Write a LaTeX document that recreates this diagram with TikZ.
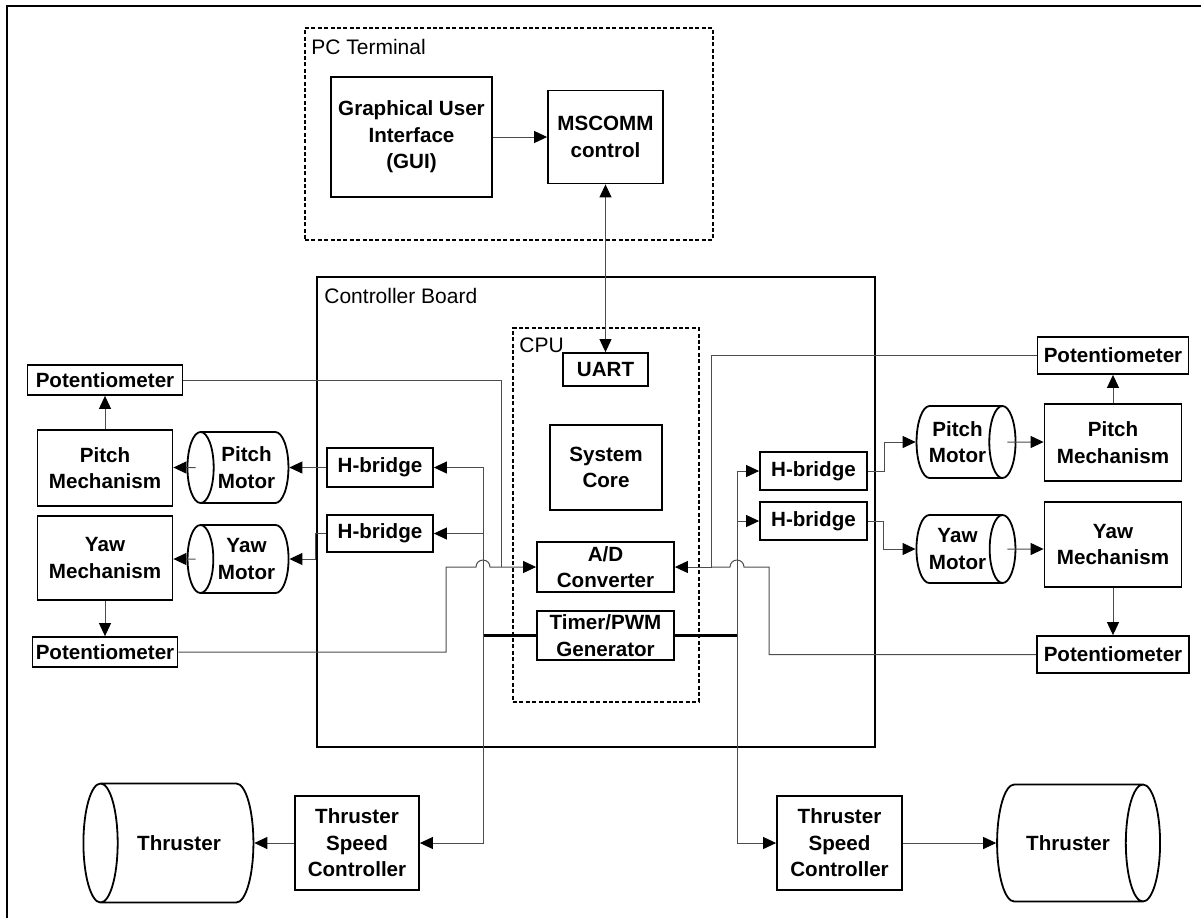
\documentclass[tikz,border=0pt]{standalone}
\usepackage{fontspec}
\setmainfont{Liberation Sans}
\usetikzlibrary{arrows.meta,shapes.geometric,calc}

\tikzset{
  blk/.style={draw,line width=0.9pt,align=center,inner sep=0.5pt,
    font=\fontsize{10.3}{13.3}\selectfont\bfseries},
  cyl/.style={blk,cylinder,shape aspect=0.6},
  grp/.style={draw,line width=0.9pt,dash pattern=on 2pt off 1.2pt},
  grplbl/.style={anchor=west,inner sep=0pt,font=\fontsize{10.5}{12}\selectfont},
  sig/.style={black!70,line width=0.5pt},
  bus/.style={black,line width=1.1pt},
}

\begin{document}
\begin{tikzpicture}[x=0.5pt,y=-0.5pt,>={Triangle[length=6.5pt,width=6pt,color=black]}]
  \useasboundingbox (0,0) rectangle (1201,918);
  \draw[line width=0.6pt] (7,918) -- (7,6) -- (1201,6);

  % PC side
  \node[grp,minimum width=204pt,minimum height=106pt] (pcterm) at (509,134) {};
  \node[grplbl] (pclbl) at (311,47) {PC Terminal};
  \node[blk,minimum width=80.5pt,minimum height=60pt] (gui) at (411.5,137) {Graphical User\\Interface\\(GUI)};
  \node[blk,minimum width=57.5pt,minimum height=46.5pt] (mscomm) at (605.5,137) {MSCOMM\\control};

  % controller board and CPU
  \node[draw,line width=0.6pt,minimum width=279pt,minimum height=235pt] (board) at (596,512) {};
  \node[grplbl] (boardlbl) at (324,296) {Controller Board};
  \node[grp,minimum width=93pt,minimum height=187pt] (cpu) at (606,515) {};
  \node[grplbl] (cpulbl) at (519,345) {CPU};
  \node[blk,minimum width=42.5pt,minimum height=16.5pt] (uart) at (605.5,369.5) {UART};
  \node[blk,minimum width=56pt,minimum height=42.5pt] (core) at (606,467.5) {System\\Core};
  \node[blk,minimum width=68.5pt,minimum height=25pt] (adc) at (605.5,567) {A/D\\Converter};
  \node[blk,minimum width=68.5pt,minimum height=24.5pt] (pwm) at (605.5,635.5) {Timer/PWM\\Generator};
  \node[blk,minimum width=53pt,minimum height=19.5pt] (hbL1) at (380,467.5) {H-bridge};
  \node[blk,minimum width=53pt,minimum height=18.5pt] (hbL2) at (380,533.5) {H-bridge};
  \node[blk,minimum width=53.5pt,minimum height=19pt] (hbR1) at (813.5,471) {H-bridge};
  \node[blk,minimum width=53.5pt,minimum height=19pt] (hbR2) at (813.5,521) {H-bridge};

  % left axis
  \node[blk,minimum width=77.5pt,minimum height=15pt] (potLT) at (105,380) {Potentiometer};
  \node[blk,minimum width=67.5pt,minimum height=38pt] (mechLP) at (105,468) {Pitch\\Mechanism};
  \node[cyl,shape border rotate=180,minimum height=50.5pt,minimum width=35.5pt] (motLP) at (246.5,467.5) {Pitch\\Motor};
  \node[blk,minimum width=67.5pt,minimum height=42pt] (mechLY) at (105,558) {Yaw\\Mechanism};
  \node[cyl,shape border rotate=180,minimum height=50.5pt,minimum width=34pt] (motLY) at (246.5,559) {Yaw\\Motor};
  \node[blk,minimum width=72.5pt,minimum height=15pt] (potLB) at (105,652) {Potentiometer};

  % right axis
  \node[blk,minimum width=75.5pt,minimum height=18.5pt] (potRT) at (1113,355.5) {Potentiometer};
  \node[blk,minimum width=68.5pt,minimum height=38.5pt] (mechRP) at (1113,442.5) {Pitch\\Mechanism};
  \node[cyl,minimum height=49.5pt,minimum width=36pt] (motRP) at (957.5,442) {Pitch\\Motor};
  \node[cyl,minimum height=49.5pt,minimum width=34pt] (motRY) at (957.5,549) {Yaw\\Motor};
  \node[blk,minimum width=68.5pt,minimum height=42.5pt] (mechRY) at (1113,544.5) {Yaw\\Mechanism};
  \node[blk,minimum width=76pt,minimum height=18.5pt] (potRB) at (1113,654.5) {Potentiometer};

  % thrusters
  \node[cyl,shape aspect=2,shape border rotate=180,minimum height=85pt,minimum width=59.5pt] (thrL) at (179,843) {Thruster};
  \node[blk,minimum width=62pt,minimum height=47pt] (tscL) at (357,843) {Thruster\\Speed\\Controller};
  \node[blk,minimum width=62.5pt,minimum height=47pt] (tscR) at (839.5,843) {Thruster\\Speed\\Controller};
  \node[cyl,shape aspect=2,minimum height=81.5pt,minimum width=58.5pt] (thrR) at (1068,843) {Thruster};

  \coordinate (jL) at (501,567);
  \coordinate (hopL) at (483,567);
  \coordinate (adL) at (446,567);
  \coordinate (jR) at (711,567);
  \coordinate (hopR) at (737,567);
  \coordinate (adR) at (769,567);
  \coordinate (busL) at (483,635.5);
  \coordinate (busR) at (737,635.5);

  \draw[sig,->] (gui) -- (mscomm);
  \draw[sig,<->] (uart) -- (mscomm);

  % PWM outputs
  \draw[bus] (pwm.west) -- (busL);
  \draw[bus] (pwm.east) -- (busR);
  \draw[sig,->] (busL) |- (hbL1.east);
  \draw[sig,->] (busL) |- (hbL2.east);
  \draw[sig,->] (busL) |- (tscL.east);
  \draw[sig,->] (busR) |- (hbR1.west);
  \draw[sig,->] (busR) |- (hbR2.west);
  \draw[sig,->] (busR) |- (tscR.west);

  % potentiometer feedback
  \draw[sig] (potLT.east) -| (jL);
  \draw[sig,->] (potLB.east) -| (adL) -- ($(hopL)+(-7,0)$)
    arc[start angle=180,end angle=0,radius=3.5pt] -- (adc.west);
  \draw[sig,->] (potRT.west) -| (jR) -- (adc.east);
  \draw[sig] (potRB.west) -| (adR) -- ($(hopR)+(7,0)$)
    arc[start angle=0,end angle=180,radius=3.5pt] -- (jR);

  % drives
  \draw[sig,->] (hbL1.west) -- (motLP.east);
  \draw[sig,->] (hbL2.west) -- ++(-11,0) |- (motLY.east);
  \draw[sig,->] (hbR1.east) -- ++(17,0) |- (motRP.west);
  \draw[sig,->] (hbR2.east) -- ++(16,0) |- (motRY.west);
  \draw[sig,->] ($(motLP.west)+(9,0)$) -- (mechLP.east |- motLP.center);
  \draw[sig,->] ($(motLY.west)+(9,0)$) -- (mechLY.east |- motLY.center);
  \draw[sig,->] ($(motRP.east)+(-9,0)$) -- (mechRP.west |- motRP.center);
  \draw[sig,->] ($(motRY.east)+(-9,0)$) -- (mechRY.west |- motRY.center);
  \draw[sig,->] (mechLP) -- (potLT);
  \draw[sig,->] (mechLY) -- (potLB);
  \draw[sig,->] (mechRP) -- (potRT);
  \draw[sig,->] (mechRY) -- (potRB);
  \draw[sig,->] (tscL.west) -- (thrL.east);
  \draw[sig,->] (tscR.east) -- (thrR.west);
\end{tikzpicture}
\end{document}
